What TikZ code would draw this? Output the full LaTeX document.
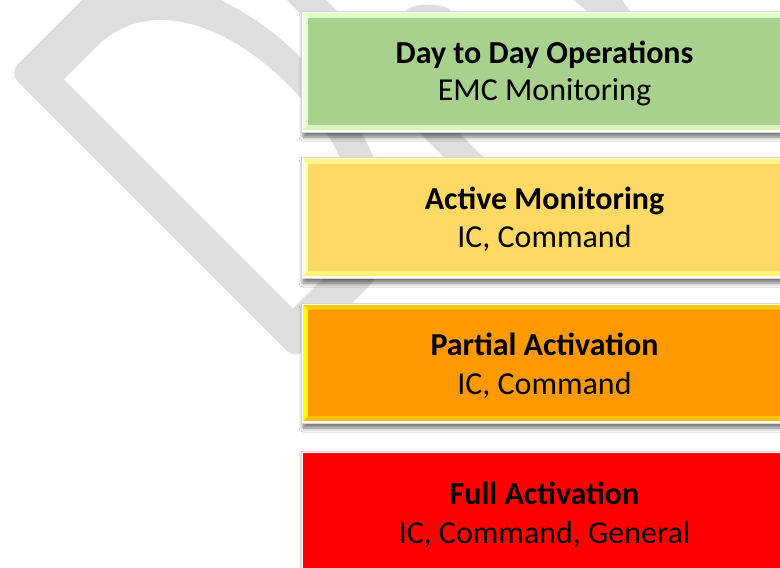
\documentclass[tikz,border=0pt]{standalone}
\usepackage{fontspec}
\setmainfont{Carlito}
\usetikzlibrary{shadows,shadows.blur}
\definecolor{wm}{RGB}{222,222,222}
\definecolor{gMain}{HTML}{A9D18E}
\definecolor{gTop}{HTML}{DFFFC6}
\definecolor{gLeft}{HTML}{E8FFDA}
\definecolor{gBot}{HTML}{D8F7BF}
\definecolor{gRight}{HTML}{C8E8B0}
\definecolor{yMain}{HTML}{FFD966}
\definecolor{yTop}{HTML}{FFF58A}
\definecolor{yLeft}{HTML}{FFFFC8}
\definecolor{yBot}{HTML}{FFF57A}
\definecolor{yRight}{HTML}{FFE680}
\definecolor{oMain}{HTML}{FF9900}
\definecolor{oTop}{HTML}{FFC800}
\definecolor{oLeft}{HTML}{FFFF00}
\definecolor{oBot}{HTML}{FFC000}
\definecolor{oRight}{HTML}{FFB000}
\definecolor{frameline}{HTML}{D4D4D4}
\newcommand\bevbox[9]{%
  \fill[#5] (#1,#2) -- (#3,#2) -- ({#3-5},{#2+5}) -- ({#1+5},{#2+5}) -- cycle;
  \fill[#6] (#1,#2) -- ({#1+5},{#2+5}) -- ({#1+5},{#4-5}) -- (#1,#4) -- cycle;
  \fill[#7] (#1,#4) -- ({#1+5},{#4-5}) -- ({#3-5},{#4-5}) -- (#3,#4) -- cycle;
  \fill[#8] (#3,#2) -- (#3,#4) -- ({#3-5},{#4-5}) -- ({#3-5},{#2+5}) -- cycle;
  \fill[#9] ({#1+5},{#2+5}) rectangle ({#3-5},{#4-5});
}
\tikzset{
  framebox/.style={fill=white, draw=frameline, line width=0.6pt,
    blur shadow={shadow xshift=2pt, shadow yshift=-5pt, shadow blur radius=4pt, shadow opacity=55}},
  titletext/.style={anchor=base, font=\bfseries\fontsize{32}{38}\selectfont},
  subtext/.style={anchor=base, font=\fontsize{32}{38}\selectfont}
}
\begin{document}
\begin{tikzpicture}[x=1pt,y=-1pt]
\useasboundingbox (0,0) rectangle (780,568);
\begin{scope}
\clip (0,0) rectangle (780,568);
\fill[white] (0,0) rectangle (780,568);
% watermark letters (rotated 45 degrees)
\begin{scope}[shift={(297pt,-358pt)}, x={(0.7071pt,0.7071pt)}, y={(-0.7071pt,0.7071pt)}]
  \fill[wm, even odd rule]
    [rounded corners=12pt] (-2,0) -- (-2,405) -- (90,405)
    .. controls (170,405) and (215,300) .. (215,202)
    .. controls (215,100) and (170,0) .. (90,0) -- cycle
    [sharp corners] (32,38) -- (32,362) -- (77,362)
    .. controls (155,362) and (187,280) .. (187,200)
    .. controls (187,120) and (155,38) .. (77,38) -- cycle;
  \fill[wm] (246,0) -- (246,430) -- (274,430) -- (274,0) -- cycle;
\end{scope}
\fill[wm] (405,12) .. controls (410,2) and (446,2) .. (452,12) -- cycle;
\fill[wm] (573,-1) -- (621,-1) -- (632,14) -- (590,14) -- cycle;
% box 1
\path[framebox] (301,11) rectangle (790,132);
\bevbox{303}{13}{788}{130}{gTop}{gLeft}{gBot}{gRight}{gMain}
% box 2
\path[framebox] (301,157) rectangle (790,278);
\bevbox{303}{159}{788}{276}{yTop}{yLeft}{yBot}{yRight}{yMain}
% box 3
\path[framebox] (301,303) rectangle (790,423);
\bevbox{303}{305}{788}{421}{oTop}{oLeft}{oBot}{oRight}{oMain}
% box 4
\path[framebox] (301,451) rectangle (790,590);
\fill[red] (303,453) rectangle (788,588);
\end{scope}
% texts
\node[titletext] (t1) at (544.5,63) {Day to Day Operations};
\node[subtext] (s1) at (544.5,100) {EMC Monitoring};
\node[titletext] (t2) at (544.5,209) {Active Monitoring};
\node[subtext] (s2) at (544.5,247) {IC, Command};
\node[titletext] (t3) at (544.5,355) {Partial Activation};
\node[subtext] (s3) at (544.5,394) {IC, Command};
\node[titletext] (t4) at (544.5,504) {Full Activation};
\node[subtext] (s4) at (544.5,543) {IC, Command, General};
\end{tikzpicture}
\end{document}
